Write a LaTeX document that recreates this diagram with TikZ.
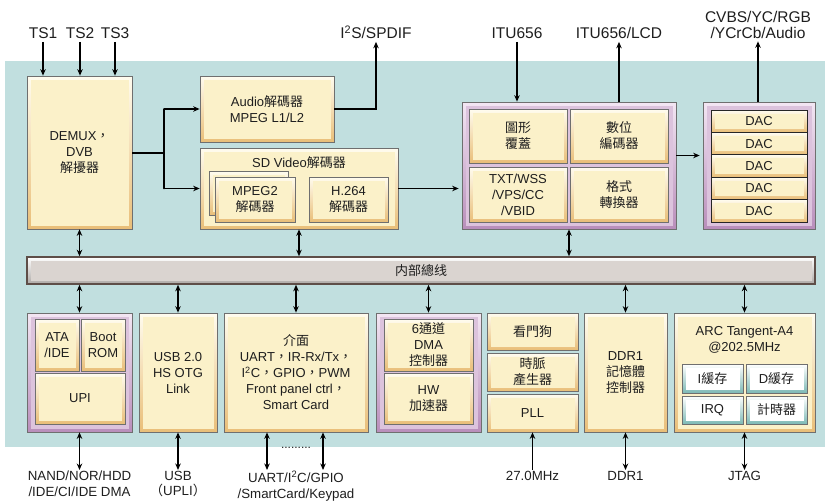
\documentclass[tikz,border=0pt]{standalone}
\usepackage{fontspec}
\setmainfont{Liberation Sans}
\newfontfamily\cjk{Noto Sans CJK TC}
\usetikzlibrary{arrows.meta,calc}
\definecolor{bg}{HTML}{C1DFDF}
\definecolor{cream}{HTML}{FBF1C9}
\definecolor{cedgeT}{HTML}{FFFCEF}
\definecolor{cedgeB}{HTML}{E9BE78}
\definecolor{purT}{HTML}{F3E6F3}
\definecolor{purB}{HTML}{B98EBB}
\definecolor{purIn}{HTML}{DCC3DD}
\definecolor{tealB}{HTML}{7DB9B5}
\definecolor{busF}{HTML}{DAD4D0}
\definecolor{busE}{HTML}{5E4E48}
\definecolor{frame}{HTML}{6F6F6F}
\definecolor{txt}{HTML}{1E1E1E}
\newcommand\zh[1]{{\cjk #1}}
\newcommand\bx[7]{\node[#6, minimum width={(#4-#2)*1pt}, minimum height={(#5-#3)*1pt}] (#1) at ({(#2+#4)/2},{(#3+#5)/2}) {#7};}
\tikzset{
  base/.style={font=\fontsize{13}{16}\selectfont, text=txt, align=center, inner sep=0pt},
  inset/.style={path picture={\fill[#1] ($(path picture bounding box.north west)+(3.5pt,-3.5pt)$) rectangle ($(path picture bounding box.south east)+(-3.5pt,3.5pt)$);}},
  cbox/.style={base, draw=frame, line width=0.7pt, top color=cedgeT, bottom color=cedgeB, inset=cream},
  pbox/.style={base, draw=frame, line width=0.7pt, top color=purT, bottom color=purB, inset=purIn},
  wbox/.style={base, draw=frame, line width=0.7pt, top color=white, bottom color=tealB, inset=white},
  dacbox/.style={base, draw=black!85, line width=0.8pt, top color=cedgeT, bottom color=cedgeB, inset=cream},
  busbox/.style={base, draw=busE, line width=1.6pt, top color=white, bottom color=busF!80!black, inset=busF},
  lbl/.style={font=\fontsize{15.5}{15.5}\selectfont, text=txt, align=center, inner sep=3pt},
  blbl/.style={font=\fontsize{13.3}{15.5}\selectfont, text=txt, align=center, inner sep=1pt},
  ln/.style={line width=1.8pt, draw=black},
  arr/.style={ln, -{Stealth[length=6.5pt,width=5.5pt]}},
  darr/.style={ln, {Stealth[length=6.5pt,width=5.5pt]}-{Stealth[length=6.5pt,width=5.5pt]}},
}
\begin{document}
\begin{tikzpicture}[x=1pt,y=-1pt]
\useasboundingbox (0,0) rectangle (827,501);
\fill[bg] (5,61) rectangle (825,447);

% top labels
\node[lbl, anchor=base] (ts1) at (43,38.5) {TS1};
\node[lbl, anchor=base] (ts2) at (80,38.5) {TS2};
\node[lbl, anchor=base] (ts3) at (115,38.5) {TS3};
\node[lbl, anchor=base] (i2s) at (376,38.5) {I\textsuperscript{2}S/SPDIF};
\node[lbl, anchor=base] (itu656) at (517,38.5) {ITU656};
\node[lbl, anchor=base] (lcd) at (619,38.5) {ITU656/LCD};
\node[lbl, anchor=base] (cvbs) at (758,38) {CVBS/YC/RGB\\/YCrCb/Audio};

% top blocks
\bx{demux}{27}{76}{132}{229}{cbox}{DEMUX\zh{，}\\DVB\\\zh{解擾器}}
\bx{audio}{200}{76}{334}{142}{cbox}{Audio\zh{解碼器}\\MPEG L1/L2}
\bx{sdv}{200}{148}{398}{229}{cbox}{}
\node[base] (sdvl) at (299,163) {SD Video\zh{解碼器}};
\bx{mpegb}{209}{171}{288}{215}{cbox}{}
\bx{mpeg}{215}{177}{295}{222}{cbox}{MPEG2\\\zh{解碼器}}
\bx{h264}{309}{177}{388}{222}{cbox}{H.264\\\zh{解碼器}}

\bx{itu}{462}{102}{676}{229}{pbox}{}
\bx{gfx}{469}{109}{567}{163}{cbox}{\zh{圖形}\\\zh{覆蓋}}
\bx{enc}{570}{109}{668}{163}{cbox}{\zh{數位}\\\zh{編碼器}}
\bx{txt}{469}{167}{567}{222}{cbox}{TXT/WSS\\/VPS/CC\\/VBID}
\bx{fmt}{570}{167}{668}{222}{cbox}{\zh{格式}\\\zh{轉換器}}

\bx{dacb}{703}{102}{815}{229}{pbox}{}
\bx{dac1}{711}{110}{807}{132.4}{dacbox}{DAC}
\bx{dac2}{711}{132.4}{807}{154.8}{dacbox}{DAC}
\bx{dac3}{711}{154.8}{807}{177.2}{dacbox}{DAC}
\bx{dac4}{711}{177.2}{807}{199.6}{dacbox}{DAC}
\bx{dac5}{711}{199.6}{807}{222}{dacbox}{DAC}

% bus
\bx{bus}{27}{257}{815}{284}{busbox}{}
\node[base] (busl) at (421,270.5) {\zh{内部總线}};

% bottom blocks
\bx{upib}{27}{313}{132}{432}{pbox}{}
\bx{ata}{35}{319}{79}{371}{cbox}{ATA\\/IDE}
\bx{boot}{81}{319}{125}{371}{cbox}{Boot\\ROM}
\bx{upi}{35}{373}{125}{424}{cbox}{UPI}
\bx{usb}{139}{313}{217}{432}{cbox}{USB 2.0\\HS OTG\\Link}
\bx{ifc}{224}{313}{368}{432}{cbox}{\zh{介面}\\UART\zh{，}IR-Rx/Tx\zh{，}\\I\textsuperscript{2}C\zh{，}GPIO\zh{，}PWM\\Front panel ctrl\zh{，}\\Smart Card}
\bx{dmab}{376}{313}{481}{432}{pbox}{}
\bx{dma}{384}{319}{473}{371}{cbox}{6\zh{通道}\\DMA\\\zh{控制器}}
\bx{hw}{384}{373}{473}{424}{cbox}{HW\\\zh{加速器}}
\bx{wd}{487}{313}{578}{350}{cbox}{\zh{看門狗}}
\bx{clk}{487}{353}{578}{391}{cbox}{\zh{時脈}\\\zh{產生器}}
\bx{pll}{487}{394}{578}{432}{cbox}{PLL}
\bx{ddr}{584}{313}{667}{432}{cbox}{DDR1\\\zh{記憶體}\\\zh{控制器}}
\bx{arc}{674}{313}{815}{432}{cbox}{}
\node[base] (arcl) at (744.5,340) {ARC Tangent-A4\\@202.5MHz};
\bx{ic}{682}{364}{743}{393}{wbox}{I\zh{緩存}}
\bx{dc}{746}{364}{807}{393}{wbox}{D\zh{緩存}}
\bx{irq}{682}{396}{743}{424}{wbox}{IRQ}
\bx{tmr}{746}{396}{807}{424}{wbox}{\zh{計時器}}

% bottom labels
\node[blbl, anchor=north] (nand) at (79.5,470) {NAND/NOR/HDD\\/IDE/CI/IDE DMA};
\node[blbl, anchor=north] (usbl) at (178,470) {USB\\\zh{（}UPLI\zh{）}};
\node[blbl, anchor=north] (uartl) at (296,470) {UART/I\textsuperscript{2}C/GPIO\\/SmartCard/Keypad};
\node[blbl, anchor=north] (mhz) at (532.5,470) {27.0MHz};
\node[blbl, anchor=north] (ddrl) at (625.5,470) {DDR1};
\node[blbl, anchor=north] (jtag) at (744.5,470) {JTAG};
\node[base, font=\fontsize{12}{12}\selectfont] (dots) at (296,448) {.........};

% connectors top
\draw[arr] (ts1.south) -- (ts1.south |- demux.north);
\draw[arr] (ts2.south) -- (ts2.south |- demux.north);
\draw[arr] (ts3.south) -- (ts3.south |- demux.north);
\coordinate (j) at (164,153);
\draw[ln] (demux.east |- j) -- (j);
\draw[ln, line cap=round] (audio.west -| j) -- (sdv.west -| j);
\draw[arr] (audio.west -| j) -- (audio.west);
\draw[arr] (sdv.west -| j) -- (sdv.west);
\draw[arr] (audio.east) -| (i2s.south);
\draw[arr, shorten >=3pt] (sdv.east) -- (sdv.east -| itu.west);
\draw[arr] (itu656.south) -- (itu656.south |- itu.north);
\draw[arr] (itu.north -| lcd.south) -- (lcd.south);
\draw[arr, shorten >=3pt] ([yshift=10pt]itu.east) -- ([yshift=10pt]itu.east -| dacb.west);
\draw[arr] (dacb.north -| cvbs.south) -- (cvbs.south);

% bus connectors
\draw[darr] (demux.south) -- (demux.south |- bus.north);
\draw[darr] (sdv.south) -- (sdv.south |- bus.north);
\draw[darr] (itu.south) -- (itu.south |- bus.north);
\draw[darr] (upib.north |- bus.south) -- (upib.north);
\draw[darr] (usb.north |- bus.south) -- (usb.north);
\draw[darr] (ifc.north |- bus.south) -- (ifc.north);
\draw[darr] (dmab.north |- bus.south) -- (dmab.north);
\draw[darr] (ddr.north |- bus.south) -- (ddr.north);
\draw[darr] (arc.north |- bus.south) -- (arc.north);

% bottom connectors
\draw[darr] (upib.south) -- (nand.north);
\draw[darr] (usb.south) -- (usbl.north);
\draw[darr] ([xshift=-29pt]ifc.south) -- ([xshift=-29pt]ifc.south |- uartl.north);
\draw[darr] ([xshift=27pt]ifc.south) -- ([xshift=27pt]ifc.south |- uartl.north);
\draw[arr] (mhz.north) -- (pll.south);
\draw[darr] (ddr.south) -- (ddrl.north);
\draw[darr] (arc.south) -- (jtag.north);
\end{tikzpicture}
\end{document}
